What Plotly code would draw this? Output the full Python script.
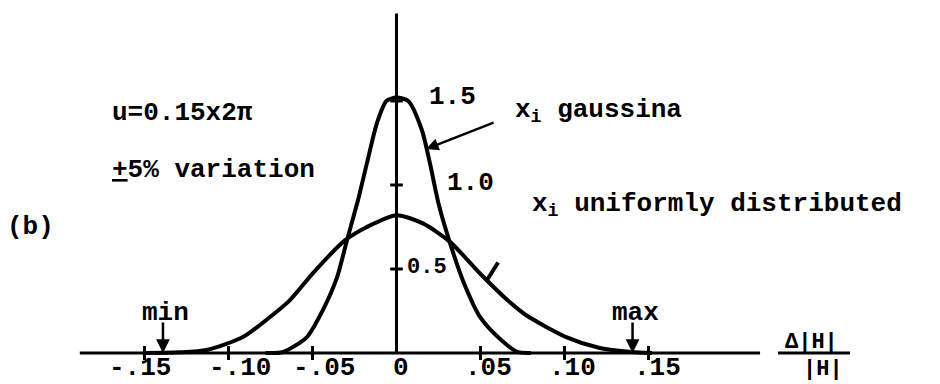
import plotly.graph_objects as go

# Distribution of the normalised deviation for two kinds of scatter in x_i
gauss_x = [-0.078, -0.0676, -0.0533, -0.0438, -0.0354, -0.0295, -0.0229, -0.0176,
           -0.0116, -0.006, 0.0, 0.007, 0.015, 0.0199, 0.025, 0.032, 0.040,
           0.050, 0.062, 0.072, 0.080]
gauss_y = [0.0, 0.006, 0.095, 0.256, 0.45, 0.67, 0.91, 1.13,
           1.37, 1.50, 1.52, 1.50, 1.33, 1.13, 0.89, 0.65, 0.42,
           0.21, 0.08, 0.006, 0.0]

unif_x = [-0.150, -0.129, -0.113, -0.0914, -0.0753, -0.0634, -0.0497, -0.0307,
          -0.0176, 0.0, 0.016, 0.032, 0.050, 0.066, 0.077, 0.101, 0.121, 0.140, 0.152]
unif_y = [0.0, 0.004, 0.018, 0.095, 0.214, 0.315, 0.476, 0.67,
          0.75, 0.82, 0.77, 0.66, 0.47, 0.315, 0.226, 0.095, 0.03, 0.006, 0.0]

x_tick_vals = [-0.15, -0.10, -0.05, 0.05, 0.10, 0.15]
x_label_vals = [-0.15, -0.10, -0.05, 0.0, 0.05, 0.10, 0.15]
x_tick_labels = ["-.15", "-.10", "-.05", "0", ".05", ".10", ".15"]
y_tick_vals = [0.5, 1.0, 1.5]
y_tick_labels = ["0.5", "1.0", "1.5"]
limit_vals = [-0.139, 0.1405]
limit_labels = ["min", "max"]

X_RANGE = [-0.2360, 0.3235]
Y_RANGE = [-0.1845, 2.101]
AXIS_X_SPAN = [-0.1885, 0.2164]
AXIS_Y_TOP = 2.02

FONT = "Liberation Mono"
INK = "black"


def typed(size):
    return dict(family=FONT, size=size, color=INK, weight="bold")


fig = go.Figure()

fig.add_trace(go.Scatter(x=unif_x, y=unif_y, mode="lines",
                         line=dict(color=INK, width=4, shape="spline", smoothing=0.7),
                         hoverinfo="skip"))
fig.add_trace(go.Scatter(x=gauss_x, y=gauss_y, mode="lines",
                         line=dict(color=INK, width=4, shape="spline", smoothing=0.7),
                         hoverinfo="skip"))

# axes drawn through the origin
fig.add_shape(type="line", x0=AXIS_X_SPAN[0], x1=AXIS_X_SPAN[1], y0=0, y1=0,
              line=dict(color=INK, width=3))
fig.add_shape(type="line", x0=0, x1=0, y0=0, y1=AXIS_Y_TOP,
              line=dict(color=INK, width=3))

# tick marks
fig.add_trace(go.Scatter(x=x_tick_vals, y=[0] * len(x_tick_vals), mode="markers",
                         marker=dict(symbol="line-ns", size=10,
                                     line=dict(color=INK, width=3)),
                         hoverinfo="skip"))
fig.add_trace(go.Scatter(x=[0] * len(y_tick_vals), y=y_tick_vals, mode="markers",
                         marker=dict(symbol="line-ew", size=9,
                                     line=dict(color=INK, width=3)),
                         hoverinfo="skip"))

# x tick labels (typed slightly to the right of each tick)
label_shift = [-4, 12, 12, 4, 8, 8, 9]
for v, t, s in zip(x_label_vals, x_tick_labels, label_shift):
    fig.add_annotation(x=v, y=0, text=t, showarrow=False, xshift=s, yshift=-15,
                       font=typed(26))

# y tick labels
y_label_pos = {"0.5": (0.0048, 0.506, 22, "left"),
               "1.0": (0.0438, 1.012, 26, "center"),
               "1.5": (0.0336, 1.524, 26, "center")}
for t in y_tick_labels:
    xv, yv, sz, anc = y_label_pos[t]
    fig.add_annotation(x=xv, y=yv, text=t, showarrow=False, xanchor=anc,
                       font=typed(sz))

# min / max arrows
for v, t in zip(limit_vals, limit_labels):
    fig.add_annotation(x=v, y=0, ax=0, ay=-32, text="", showarrow=True,
                       arrowhead=2, arrowsize=1.1, arrowwidth=2.5, arrowcolor=INK)
    fig.add_annotation(x=v, y=0.238, text=t, showarrow=False, xshift=3,
                       font=typed(26))

# curve pointers
fig.add_annotation(x=0.0176, y=1.214, ax=69, ay=-27, text="", showarrow=True,
                   arrowhead=2, arrowsize=1.0, arrowwidth=2.5, arrowcolor=INK)
fig.add_annotation(x=0.0539, y=0.4345, ax=12, ay=-19, text="", showarrow=True,
                   arrowhead=0, arrowwidth=4, arrowcolor=INK)

# free text
notes = [
    ("u=0.15x2\u03c0", -0.1705, 1.429, "left"),
    ("<u>+</u>5% variation", -0.1705, 1.089, "left"),
    ("(b)", -0.2176, 0.75, "center"),
    ("x<sub>i</sub> gaussina", 0.0693, 1.44, "left"),
    ("x<sub>i</sub> uniformly distributed", 0.0795, 0.88, "left"),
]
for t, xv, yv, anc in notes:
    fig.add_annotation(x=xv, y=yv, text=t, showarrow=False, xanchor=anc,
                       font=typed(26))

# abscissa quantity written as a fraction
fig.add_shape(type="line", x0=0.2271, x1=0.2699, y0=0, y1=0,
              line=dict(color=INK, width=3))
fig.add_annotation(x=0.2472, y=0.06, text="\u0394|H|", showarrow=False,
                   font=typed(22))
fig.add_annotation(x=0.2536, y=-0.10, text="|H|", showarrow=False,
                   font=typed(22))

fig.update_layout(
    width=940, height=384,
    margin=dict(l=0, r=0, t=0, b=0),
    paper_bgcolor="white", plot_bgcolor="white",
    showlegend=False,
    font=dict(family=FONT, color=INK),
    xaxis=dict(visible=False, range=X_RANGE, fixedrange=True),
    yaxis=dict(visible=False, range=Y_RANGE, fixedrange=True),
)

fig.write_html("out.html")
